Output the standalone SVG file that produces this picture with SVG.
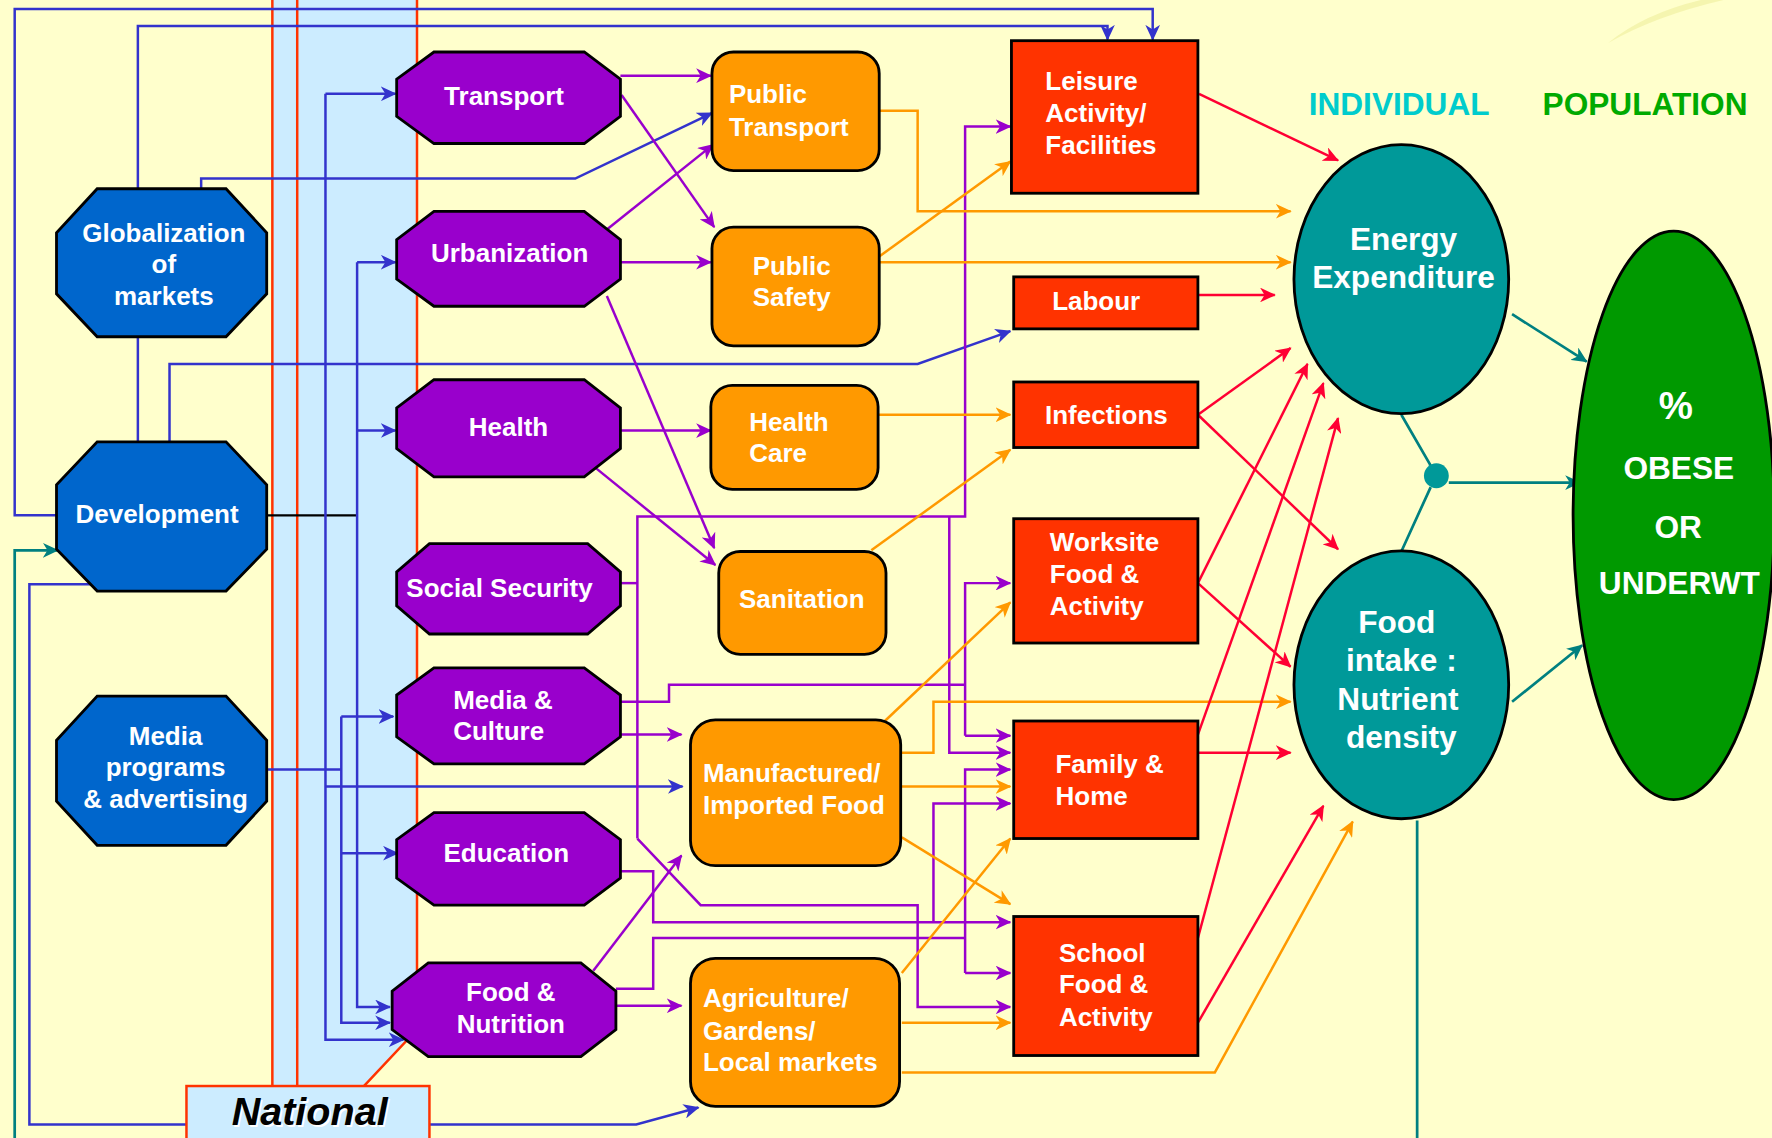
<svg xmlns="http://www.w3.org/2000/svg" width="1772" height="1138" viewBox="0 0 1772 1138">
<defs>
<style>
.t{font-family:"Liberation Sans",Arial,sans-serif;font-weight:bold;font-size:23px;fill:#fff}
.c{text-anchor:middle}
.big{font-size:28px}
.pct{font-size:34px}
.ob{fill:#0066CC;stroke:#000;stroke-width:2.5}
.op{fill:#9900CC;stroke:#000;stroke-width:2.5}
.or{fill:#FF9900;stroke:#000;stroke-width:2.5}
.rd{fill:#FF3300;stroke:#000;stroke-width:2.5}
.tl{fill:#009999;stroke:#000;stroke-width:2.5}
.gr{fill:#009900;stroke:#000;stroke-width:2.5}
.lb{fill:none;stroke:#3333CC;stroke-width:2.2}
.lp{fill:none;stroke:#9900CC;stroke-width:2.2}
.lo{fill:none;stroke:#FF9900;stroke-width:2.2}
.lr{fill:none;stroke:#FF0033;stroke-width:2.2}
.lt{fill:none;stroke:#008080;stroke-width:2.4}
.lk{fill:none;stroke:#000;stroke-width:2}
.band{fill:none;stroke:#FF3300;stroke-width:2.2}
.ab{marker-end:url(#mB)}
.ap{marker-end:url(#mP)}
.ao{marker-end:url(#mO)}
.ar{marker-end:url(#mR)}
.at{marker-end:url(#mT)}
</style>
<marker id="mB" markerUnits="userSpaceOnUse" markerWidth="14" markerHeight="13" refX="13" refY="6.5" orient="auto"><path d="M0,0 L14,6.5 L0,13 L4,6.5 Z" fill="#3333CC"/></marker>
<marker id="mP" markerUnits="userSpaceOnUse" markerWidth="14" markerHeight="13" refX="13" refY="6.5" orient="auto"><path d="M0,0 L14,6.5 L0,13 L4,6.5 Z" fill="#9900CC"/></marker>
<marker id="mO" markerUnits="userSpaceOnUse" markerWidth="14" markerHeight="13" refX="13" refY="6.5" orient="auto"><path d="M0,0 L14,6.5 L0,13 L4,6.5 Z" fill="#FF9900"/></marker>
<marker id="mR" markerUnits="userSpaceOnUse" markerWidth="14" markerHeight="13" refX="13" refY="6.5" orient="auto"><path d="M0,0 L14,6.5 L0,13 L4,6.5 Z" fill="#FF0033"/></marker>
<marker id="mT" markerUnits="userSpaceOnUse" markerWidth="14" markerHeight="13" refX="13" refY="6.5" orient="auto"><path d="M0,0 L14,6.5 L0,13 L4,6.5 Z" fill="#008080"/></marker>
</defs>
<rect width="1772" height="1138" fill="#FFFFCC"/>
<g transform="scale(1.1301)">
<path d="M1423,38 Q1455,12 1505,0 L1525,0 Q1465,14 1423,38 Z" fill="#F2F2A8" opacity="0.8"/>
<g id="national-band">
<polygon points="241,0 369,0 369,911 322,961 241,961" fill="#CCECFF"/>
<path class="band" d="M241,0 V961 M263,0 V961 M369,0 V911 L322,961"/>
</g>
<g id="connectors">
<path class="lk" d="M236,456 H316"/>
<path class="lb ab" d="M50,456 H13 V8 H1020 V35"/>
<path class="lb ab" d="M122,167 V23 H980 V35"/>
<path class="lb" d="M122,298 V391"/>
<path class="lb ab" d="M178,167 V158 H509 L630,100"/>
<path class="lb ab" d="M150,391 V322 H812 L894,293"/>
<path class="lb ab" d="M288,83 H350"/>
<path class="lb ab" d="M288,83 V920 H357"/>
<path class="lb ab" d="M288,696 H604"/>
<path class="lb ab" d="M316,232 H350"/>
<path class="lb ab" d="M316,381 H350"/>
<path class="lb ab" d="M316,232 V891 H345"/>
<path class="lb" d="M236,681 H302"/>
<path class="lb ab" d="M302,634 H348"/>
<path class="lb ab" d="M302,634 V905 H345"/>
<path class="lb ab" d="M302,755 H352"/>
<path class="lb ab" d="M80,517 H26 V995 H563 L618,980"/>
<path class="lp ap" d="M549,67 H629"/>
<path class="lp ap" d="M550,84 L632,201"/>
<path class="lp ap" d="M537,203 L631,128"/>
<path class="lp ap" d="M549,232 H629"/>
<path class="lp ap" d="M537,262 L632,485"/>
<path class="lp ap" d="M549,381 H629"/>
<path class="lp ap" d="M527,414 L633,500"/>
<path class="lp" d="M549,516 H564"/>
<path class="lp ap" d="M564,742 V457 H854 V112 H894"/>
<path class="lp ap" d="M840,457 V666 H894"/>
<path class="lp ap" d="M564,742 L620,801 H812 V891 H894"/>
<path class="lp" d="M549,621 H592 V606 H854"/>
<path class="lp ap" d="M854,651 V516 H894"/>
<path class="lp ap" d="M854,651 H894"/>
<path class="lp ap" d="M549,650 H603"/>
<path class="lp ap" d="M549,771 H578 V816 H894"/>
<path class="lp ap" d="M826,816 V711 H894"/>
<path class="lp ap" d="M525,859 L603,757"/>
<path class="lp" d="M545,875 H578 V830 H854"/>
<path class="lp ap" d="M854,861 V681 H894"/>
<path class="lp ap" d="M854,861 H894"/>
<path class="lp ap" d="M545,890 H603"/>
<path class="lo ao" d="M778,98 H812 V187 H1142"/>
<path class="lo ao" d="M778,232 H1142"/>
<path class="lo ao" d="M778,227 L894,143"/>
<path class="lo ao" d="M777,367 H894"/>
<path class="lo ao" d="M771,487 L894,398"/>
<path class="lo ao" d="M783,638 L894,533"/>
<path class="lo ao" d="M797,666 H826 V621 H1142"/>
<path class="lo ao" d="M797,696 H894"/>
<path class="lo ao" d="M798,741 L894,800"/>
<path class="lo ao" d="M798,861 L894,742"/>
<path class="lo ao" d="M798,905 H894"/>
<path class="lo ao" d="M798,949 H1075 L1197,727"/>
<path class="lr ar" d="M1061,83 L1184,142"/>
<path class="lr ar" d="M1060,261 H1128"/>
<path class="lr ar" d="M1060,367 L1142,308"/>
<path class="lr ar" d="M1060,367 L1184,486"/>
<path class="lr ar" d="M1060,516 L1157,322"/>
<path class="lr ar" d="M1060,516 L1142,590"/>
<path class="lr ar" d="M1060,650 L1171,339"/>
<path class="lr ar" d="M1060,666 H1142"/>
<path class="lr ar" d="M1060,830 L1184,370"/>
<path class="lr ar" d="M1060,905 L1171,713"/>
<path class="lt at" d="M1338,278 L1404,320"/>
<path class="lt" d="M1240,367 L1266,412 M1266,431 L1240,488"/>
<path class="lt at" d="M1282,427 H1398"/>
<path class="lt at" d="M1338,621 L1400,571"/>
<path class="lt" d="M1254,726 V1010"/>
<path class="lt at" d="M13,1010 V487 H51"/>
<circle cx="1271" cy="421" r="11" fill="#009999"/>
</g>
<g id="national">
<rect x="165" y="961" width="215" height="60" fill="#CCECFF" stroke="#FF3300" stroke-width="2.2"/>
<text x="275.5" y="997" text-anchor="middle" font-family="'Liberation Sans',Arial,sans-serif" font-weight="bold" font-style="italic" font-size="35" fill="#fff">National</text>
<text x="274" y="995.5" text-anchor="middle" font-family="'Liberation Sans',Arial,sans-serif" font-weight="bold" font-style="italic" font-size="35" fill="#000">National</text>
</g>
<g id="globalization">
<polygon class="ob" points="86,167 200,167 236,206 236,260 200,298 86,298 50,260 50,206"/>
<text class="t c" x="145" y="214">Globalization</text>
<text class="t c" x="145" y="242">of</text>
<text class="t c" x="145" y="270">markets</text>
</g>
<g id="development">
<polygon class="ob" points="86,391 200,391 236,429 236,486 200,523 86,523 50,486 50,429"/>
<text class="t c" x="139" y="463">Development</text>
</g>
<g id="media-programs">
<polygon class="ob" points="86,616 200,616 236,655 236,709 200,748 86,748 50,709 50,655"/>
<text class="t c" x="146.5" y="659">Media</text>
<text class="t c" x="146.5" y="687">programs</text>
<text class="t c" x="146.5" y="715">&amp; advertising</text>
</g>
<g id="transport">
<polygon class="op" points="384,46 517,46 549,70 549,103 517,127 384,127 351,103 351,70"/>
<text class="t c" x="446" y="93">Transport</text>
</g>
<g id="urbanization">
<polygon class="op" points="384,187 517,187 549,212 549,247 517,271 384,271 351,247 351,212"/>
<text class="t c" x="451" y="232">Urbanization</text>
</g>
<g id="health">
<polygon class="op" points="384,336 517,336 549,361 549,397 517,422 384,422 351,397 351,361"/>
<text class="t c" x="450" y="386">Health</text>
</g>
<g id="social-security">
<polygon class="op" points="380,481 520,481 549,506 549,536 520,561 380,561 351,536 351,506"/>
<text class="t c" x="442" y="528">Social Security</text>
</g>
<g id="media-culture">
<polygon class="op" points="384,591 517,591 549,615 549,652 517,676 384,676 351,652 351,615"/>
<text class="t" x="401" y="627">Media &amp;</text>
<text class="t" x="401" y="655">Culture</text>
</g>
<g id="education">
<polygon class="op" points="384,719 517,719 549,743 549,777 517,801 384,801 351,777 351,743"/>
<text class="t c" x="448" y="763">Education</text>
</g>
<g id="food-nutrition">
<polygon class="op" points="379,852 514,852 545,877 545,911 514,935 379,935 347,911 347,877"/>
<text class="t c" x="452" y="886">Food &amp;</text>
<text class="t c" x="452" y="914">Nutrition</text>
</g>
<g id="public-transport">
<rect class="or" x="630" y="46" width="148" height="105" rx="19"/>
<text class="t" x="645" y="91">Public</text>
<text class="t" x="645" y="120">Transport</text>
</g>
<g id="public-safety">
<rect class="or" x="630" y="201" width="148" height="105" rx="19"/>
<text class="t" x="666" y="243">Public</text>
<text class="t" x="666" y="271">Safety</text>
</g>
<g id="health-care">
<rect class="or" x="629" y="341" width="148" height="92" rx="19"/>
<text class="t" x="663" y="381">Health</text>
<text class="t" x="663" y="409">Care</text>
</g>
<g id="sanitation">
<rect class="or" x="636" y="488" width="148" height="91" rx="19"/>
<text class="t c" x="709.5" y="538">Sanitation</text>
</g>
<g id="manufactured-food">
<rect class="or" x="611" y="637" width="186" height="129" rx="22"/>
<text class="t" x="622" y="692">Manufactured/</text>
<text class="t" x="622" y="720">Imported Food</text>
</g>
<g id="agriculture">
<rect class="or" x="611" y="848" width="185" height="131" rx="22"/>
<text class="t" x="622" y="891">Agriculture/</text>
<text class="t" x="622" y="920">Gardens/</text>
<text class="t" x="622" y="948">Local markets</text>
</g>
<g id="leisure">
<rect class="rd" x="895" y="36" width="165" height="135"/>
<text class="t" x="925" y="80">Leisure</text>
<text class="t" x="925" y="108">Activity/</text>
<text class="t" x="925" y="136">Facilities</text>
</g>
<g id="labour">
<rect class="rd" x="897" y="245" width="163" height="46"/>
<text class="t c" x="970" y="274">Labour</text>
</g>
<g id="infections">
<rect class="rd" x="897" y="338" width="163" height="58"/>
<text class="t c" x="979" y="375">Infections</text>
</g>
<g id="worksite">
<rect class="rd" x="897" y="459" width="163" height="110"/>
<text class="t" x="929" y="488">Worksite</text>
<text class="t" x="929" y="516">Food &amp;</text>
<text class="t" x="929" y="544">Activity</text>
</g>
<g id="family-home">
<rect class="rd" x="897" y="638" width="163" height="104"/>
<text class="t" x="934" y="684">Family &amp;</text>
<text class="t" x="934" y="712">Home</text>
</g>
<g id="school">
<rect class="rd" x="897" y="811" width="163" height="123"/>
<text class="t" x="937" y="851">School</text>
<text class="t" x="937" y="879">Food &amp;</text>
<text class="t" x="937" y="908">Activity</text>
</g>
<g id="energy-expenditure">
<ellipse class="tl" cx="1240" cy="247" rx="95" ry="119"/>
<text class="t c big" x="1242" y="221">Energy</text>
<text class="t c big" x="1242" y="255">Expenditure</text>
</g>
<g id="food-intake">
<ellipse class="tl" cx="1240" cy="606" rx="95" ry="118.5"/>
<text class="t c big" x="1236" y="560">Food</text>
<text class="t c big" x="1240" y="594">intake :</text>
<text class="t c big" x="1237" y="628">Nutrient</text>
<text class="t c big" x="1240" y="662">density</text>
</g>
<g id="obese-underwt">
<ellipse class="gr" cx="1481" cy="456" rx="89" ry="251.5"/>
<text class="t c pct" x="1483" y="371">%</text>
<text class="t c big" x="1485.5" y="424">OBESE</text>
<text class="t c big" x="1485" y="476">OR</text>
<text class="t c big" x="1486" y="526">UNDERWT</text>
</g>
<g id="labels">
<text x="1158" y="102" font-family="'Liberation Sans',Arial,sans-serif" font-weight="bold" font-size="28" fill="#00CCCC">INDIVIDUAL</text>
<text x="1365" y="102" font-family="'Liberation Sans',Arial,sans-serif" font-weight="bold" font-size="28" fill="#00AA00">POPULATION</text>
</g>
</g>
</svg>
